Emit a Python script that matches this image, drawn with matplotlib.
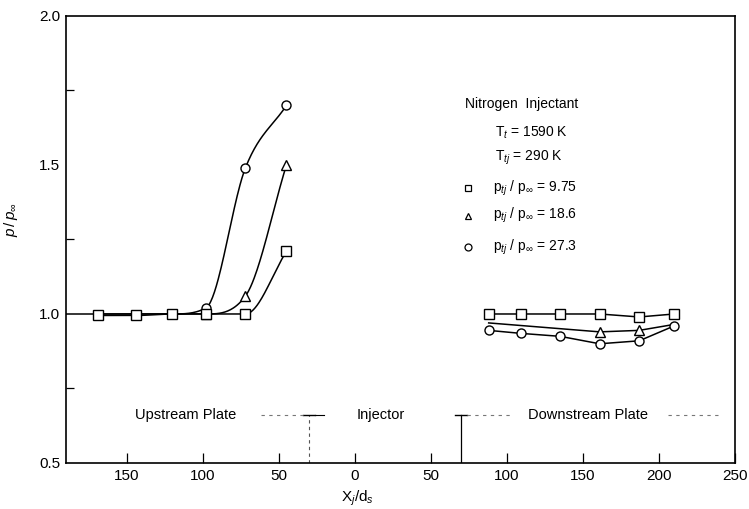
import numpy as np
import matplotlib.pyplot as plt

plt.rcParams['font.family'] = ['Liberation Sans', 'DejaVu Sans']
plt.rcParams['mathtext.fontset'] = 'custom'
plt.rcParams['mathtext.rm'] = 'Liberation Sans'
plt.rcParams['mathtext.it'] = 'Liberation Sans:italic'

# upstream plate stations (X/ds) and pressure ratios
x_up = [-169, -144, -120, -98, -72, -45]
sq_up = [0.995, 0.995, 1.0, 1.0, 1.0, 1.21]
tri_up = [1.0, 1.0, 1.0, 1.0, 1.06, 1.50]
circ_up = [1.0, 1.0, 1.0, 1.02, 1.49, 1.70]

# downstream plate stations
x_dn = [88, 109, 135, 161, 187, 210]
sq_dn = [1.0, 1.0, 1.0, 1.0, 0.99, 1.0]
x_dn_tri = [88, 161, 187, 210]
tri_dn = [0.97, 0.94, 0.945, 0.965]
circ_dn = [0.945, 0.935, 0.925, 0.90, 0.91, 0.96]

xticks = [-150, -100, -50, 0, 50, 100, 150, 200, 250]
yticks = [0.5, 1.0, 1.5, 2.0]
legend_txt = [r'p$_{tj}$ / p$_\infty$ = 9.75',
              r'p$_{tj}$ / p$_\infty$ = 18.6',
              r'p$_{tj}$ / p$_\infty$ = 27.3']


def pchip(x, y, n=200):
    # monotone cubic curve (Fritsch-Carlson) for drawing smooth lines
    x = np.asarray(x, float)
    y = np.asarray(y, float)
    h = np.diff(x)
    d = np.diff(y) / h
    m = np.zeros_like(y)
    m[0], m[-1] = d[0], d[-1]
    for k in range(1, len(x) - 1):
        if d[k - 1] * d[k] > 0:
            m[k] = 0.5 * (d[k - 1] + d[k])
            m[k] = min(m[k], 3 * d[k - 1], 3 * d[k]) if m[k] > 0 else max(m[k], 3 * d[k - 1], 3 * d[k])
    xs = np.linspace(x[0], x[-1], n)
    i = np.clip(np.searchsorted(x, xs) - 1, 0, len(x) - 2)
    t = (xs - x[i]) / h[i]
    h00 = 2 * t**3 - 3 * t**2 + 1
    h10 = t**3 - 2 * t**2 + t
    h01 = -2 * t**3 + 3 * t**2
    h11 = t**3 - t**2
    ys = h00 * y[i] + h10 * h[i] * m[i] + h01 * y[i + 1] + h11 * h[i] * m[i + 1]
    return xs, ys


fig = plt.figure(figsize=(7.49, 5.09), dpi=100)
ax = fig.add_axes([0.0881, 0.0904, 0.8932, 0.8782])
ax.set_xlim(-190, 250)
ax.set_ylim(0.5, 2.0)

lw = 1.1
ms = 6.5
mk = dict(mfc='white', mec='black', mew=1.0, ls='none', zorder=4)

# upstream curves
x0 = ax.get_xlim()[0]
ax.plot([x0, x_up[0]], [1.0, 1.0], color='black', lw=lw)
for vals in (sq_up, tri_up, circ_up):
    xs, ys = pchip(x_up, vals)
    ax.plot(xs, ys, color='black', lw=lw)
ax.plot(x_up[3:], tri_up[3:], marker='^', ms=ms, **mk)
ax.plot(x_up[3:], circ_up[3:], marker='o', ms=ms, **mk)
ax.plot(x_up, sq_up, marker='s', ms=ms, **mk)

# downstream curves
ax.plot(x_dn, sq_dn, color='black', lw=lw)
ax.plot(x_dn_tri, tri_dn, color='black', lw=lw)
ax.plot(x_dn, circ_dn, color='black', lw=lw)
ax.plot(x_dn_tri[1:3], tri_dn[1:3], marker='^', ms=ms, **mk)
ax.plot(x_dn, circ_dn, marker='o', ms=ms, **mk)
ax.plot(x_dn, sq_dn, marker='s', ms=ms, **mk)

# plate / injector layout along the bottom
yb = 0.662
ax.plot([-30, -30], [0.5, yb], color='#555555', lw=0.8, ls=(0, (3, 3)))
ax.plot([70, 70], [0.5, yb], color='black', lw=0.9)
for xa in (-30, 70):
    ax.plot([xa - 4, xa + 4], [yb, yb], color='black', lw=1.0)
dash = dict(color='#777777', lw=0.8, ls=(0, (3, 4)))
ax.plot([-62, -34], [yb, yb], **dash)
ax.plot([-26, -20], [yb, yb], color='black', lw=0.8)
ax.plot([74, 102], [yb, yb], **dash)
ax.plot([206, 240], [yb, yb], **dash)
ax.text(-111, yb, 'Upstream Plate', ha='center', va='center', fontsize=10.5)
ax.text(17, yb, 'Injector', ha='center', va='center', fontsize=10.5)
ax.text(153, yb, 'Downstream Plate', ha='center', va='center', fontsize=10.5)

# annotation block
ax.text(0.596, 0.803, 'Nitrogen  Injectant', transform=ax.transAxes,
        fontsize=10, va='center')
ax.text(0.641, 0.738, r'T$_t$ = 1590 K', transform=ax.transAxes,
        fontsize=10, va='center')
ax.text(0.641, 0.682, r'T$_{tj}$ = 290 K', transform=ax.transAxes,
        fontsize=10, va='center')
for yy, m, txt in zip([0.615, 0.553, 0.483], ['s', '^', 'o'], legend_txt):
    ax.plot([0.601], [yy], marker=m, ms=5, mfc='white', mec='black',
            mew=0.9, transform=ax.transAxes, clip_on=False)
    ax.text(0.638, yy, txt, transform=ax.transAxes, fontsize=10, va='center')

ax.set_xticks(xticks)
ax.set_xticklabels([str(abs(v)) for v in xticks])
ax.set_yticks(yticks)
ax.set_yticklabels(['%.1f' % v for v in yticks])
ax.set_yticks([0.75, 1.25, 1.75], minor=True)
ax.tick_params(axis='both', which='both', direction='in', labelsize=11,
               pad=4, width=0.9)
ax.tick_params(axis='x', which='major', length=7)
ax.tick_params(axis='y', which='major', length=0)
ax.tick_params(axis='y', which='minor', length=6)
for s in ax.spines.values():
    s.set_linewidth(1.2)

ax.set_xlabel(r'X$_j$/d$_s$', fontsize=11, va='center')
ax.xaxis.set_label_coords(0.436, -0.08)
ax.set_ylabel(r'$p\,/\,p_\infty$', fontsize=11)
ax.yaxis.set_label_coords(-0.069, 0.544)

fig.savefig('out.png', dpi=100)
